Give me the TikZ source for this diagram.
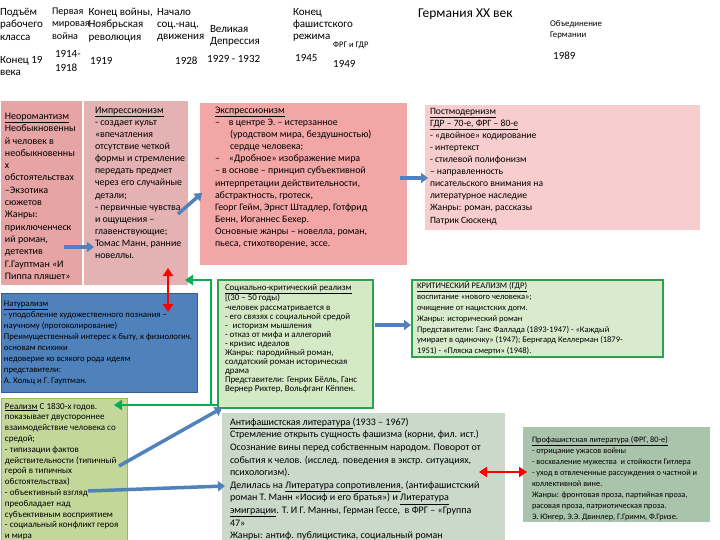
\documentclass[tikz,border=0pt]{standalone}
\usepackage{fontspec}
\setmainfont{Carlito}
\usetikzlibrary{arrows.meta,calc}
\definecolor{neoc}{HTML}{E6A4A4}
\definecolor{impc}{HTML}{E4B2B2}
\definecolor{exprc}{HTML}{F3A6A6}
\definecolor{postc}{HTML}{F8CDCD}
\definecolor{natc}{HTML}{4F81BD}
\definecolor{natb}{HTML}{385D8A}
\definecolor{soccf}{HTML}{D4E9C6}
\definecolor{critf}{HTML}{D8ECCD}
\definecolor{gborder}{HTML}{2EA14E}
\definecolor{realf}{HTML}{C4D79B}
\definecolor{realb}{HTML}{9BBB59}
\definecolor{antif}{HTML}{CBD9CB}
\definecolor{prof}{HTML}{AAC4AC}
\definecolor{arrblue}{HTML}{4F81BD}
\definecolor{arrgreen}{HTML}{00B050}
\definecolor{arrred}{HTML}{FF0000}
\newcommand{\fz}[2]{\fontsize{#1}{#2}\selectfont}
\begin{document}
\begin{tikzpicture}[x=1pt,y=-1pt,
  boxst/.style={anchor=north west, inner sep=0pt, outer sep=0pt},
  txt/.style={anchor=north west, inner sep=0pt, outer sep=0pt, align=left, text=black},
  yr/.style={anchor=base west, inner sep=0pt, font=\fz{11}{14}},
  tl/.style={txt, font=\fz{11}{12.4}},
  barrow/.style={draw=arrblue, line width=3.5pt, -{Triangle[length=7pt,width=10pt]}},
  garrow/.style={draw=arrgreen, line width=2.8pt, -{Triangle[length=8pt,width=10pt]}},
  gline/.style={draw=arrgreen, line width=2.8pt},
  rarrow/.style={draw=arrred, line width=2.5pt, {Triangle[length=8pt,width=10pt]}-{Triangle[length=8pt,width=10pt]}}
]
\useasboundingbox (0,0) rectangle (720,540);
\fill[white] (0,0) rectangle (720,540);

% ---------- timeline ----------
\node[tl] (t1) at (0,8) {Подъём\\рабочего\\класса};
\node[tl] (t1b) at (0,56) {Конец 19\\века};
\node[tl, font=\fz{10.2}{12.4}] (t2) at (52,8) {Первая\\мировая\\война};
\node[txt, font=\fz{11}{14.5}] (t2b) at (55,50) {1914-\\1918};
\node[tl] (t3) at (88.5,8) {Конец войны,\\Ноябрьская\\революция};
\node[yr] (t3b) at (90,65) {1919};
\node[tl] (t4) at (157,8) {Начало\\соц.-нац.\\движения};
\node[yr] (t4b) at (175,65) {1928};
\node[tl] (t5) at (210,25) {Великая\\Депрессия};
\node[yr] (t5b) at (207,63) {1929 - 1932};
\node[tl] (t6) at (293,8) {Конец\\фашистского\\режима};
\node[yr] (t6b) at (295,62) {1945};
\node[anchor=base west, inner sep=0pt, font=\fz{8.5}{9}] (t7) at (333,48) {ФРГ и ГДР};
\node[yr] (t7b) at (333,68) {1949};
\node[anchor=base west, inner sep=0pt, font=\fz{13.5}{16}] (title) at (418,18) {Германия XX век};
\node[txt, font=\fz{8.8}{10.5}] (t8) at (550,21) {Объединение\\Германии};
\node[yr] (t8b) at (553,60) {1989};

% ---------- boxes ----------
\node[boxst, fill=neoc, minimum width=81pt, minimum height=184pt] (neo) at (1,101) {};
\node[boxst, fill=impc, minimum width=104pt, minimum height=184pt] (imp) at (84,101) {};
\node[boxst, fill=exprc, minimum width=207pt, minimum height=162pt] (expr) at (200,103) {};
\node[boxst, fill=postc, minimum width=275pt, minimum height=125pt] (post) at (425,105) {};
\node[boxst, fill=natc, draw=natb, line width=1pt, minimum width=196pt, minimum height=99pt] (nat) at (1,293) {};
\node[boxst, fill=soccf, draw=gborder, line width=2pt, minimum width=155pt, minimum height=128pt] (socc) at (218,280) {};
\node[boxst, fill=critf, draw=gborder, line width=2pt, minimum width=251pt, minimum height=77pt] (crit) at (412,280) {};
\node[boxst, fill=realf, draw=realb, line width=1pt, minimum width=126pt, minimum height=145pt] (real) at (1,398) {};
\node[boxst, fill=antif, minimum width=283pt, minimum height=127pt] (anti) at (222,413) {};
\node[boxst, fill=prof, minimum width=187pt, minimum height=95pt] (pro) at (523,427) {};

% ---------- box texts ----------
\node[txt, font=\fz{10}{12.3}] (neotx) at (5,113) {\underline{Неоромантизм}\\Необыкновенны\\й человек в\\необыкновенны\\х\\обстоятельствах\\–Экзотика\\сюжетов\\Жанры:\\приключенческ\\ий роман,\\детектив\\Г.Гауптман «И\\Пиппа пляшет»};
\node[txt, font=\fz{9.9}{12.1}] (imptx) at (95,107) {\underline{Импрессионизм}\\- создает культ\\«впечатления\\отсутствие четкой\\формы и стремление\\передать предмет\\через его случайные\\детали;\\- первичные чувства\\и ощущения –\\главенствующие;\\Томас Манн, ранние\\новеллы.};
\node[txt, font=\fz{9.9}{12.1}] (exprtx) at (215,107) {\underline{Экспрессионизм}\\–\hspace*{9pt}в центре Э. – истерзанное\\\hspace*{15pt}(уродством мира, бездушностью)\\\hspace*{15pt}сердце человека;\\–\hspace*{9pt}«Дробное» изображение мира\\– в основе – принцип субъективной\\интерпретации действительности,\\абстрактность, гротеск,\\Георг Гейм, Эрнст Штадлер, Готфрид\\Бенн, Иоганнес Бехер.\\Основные жанры – новелла, роман,\\пьеса, стихотворение, эссе.};
\node[txt, font=\fz{9.6}{12.1}] (posttx) at (430,108) {\underline{Постмодернизм}\\\underline{ГДР – 70-е, ФРГ – 80-е}\\- «двойное» кодирование\\- интертекст\\- стилевой полифонизм\\– направленность\\писательского внимания на\\литературное наследие\\Жанры: роман, рассказы\\Патрик Сюскенд};
\node[txt, font=\fz{8.7}{11}] (nattx) at (4,301) {\underline{Натурализм}\\- уподобление художественного познания –\\научному (протоколирование)\\Преимущественный интерес к быту, к физиологич.\\основам психики\\недоверие ко всякого рода идеям\\представители:\\А. Хольц и Г. Гауптман.};
\node[txt, font=\fz{8.9}{9.1}] (socctx) at (225,284) {\underline{Социально-критический реализм}\\{[}(30 – 50 годы)\\-человек рассматривается в\\- его связях с социальной средой\\-\hspace*{3pt} историзм мышления\\- отказ от мифа и аллегорий\\- кризис идеалов\\Жанры: пародийный роман,\\солдатский роман историческая\\драма\\Представители: Генрих Бёлль, Ганс\\Вернер Рихтер, Вольфганг Кёппен.};
\node[txt, font=\fz{8.5}{10.8}] (crittx) at (417,282) {\underline{КРИТИЧЕСКИЙ РЕАЛИЗМ (ГДР)}\\воспитание «нового человека»;\\очищение от нацистских догм.\\Жанры: исторический роман\\Представители: Ганс Фаллада (1893-1947) - «Каждый\\умирает в одиночку» (1947); Бернгард Келлерман (1879-\\1951) - «Пляска смерти» (1948).};
\node[txt, font=\fz{9}{10.8}] (realtx) at (5,403) {\underline{Реализм} С 1830-х годов.\\показывает двустороннее\\взаимодействие человека со\\средой;\\- типизации фактов\\действительности (типичный\\герой в типичных\\обстоятельствах)\\- объективный взгляд\\преобладает над\\субъективным восприятием\\- социальный конфликт героя\\и мира};
\node[txt, font=\fz{10}{12.6}] (antitx) at (230,418) {\underline{Антифашистская литература }(1933 – 1967)\\Стремление открыть сущность фашизма (корни, фил. ист.)\\Осознание вины перед собственным народом. Поворот от\\события к челов. (исслед. поведения в экстр. ситуациях,\\психологизм).\\Делилась на \underline{Литература сопротивления}, (антифашистский\\роман Т. Манн «Иосиф и его братья») и \underline{Литература}\\\underline{эмиграции}. Т. И Г. Манны, Герман Гессе,\ \ в ФРГ – «Группа\\47»\\Жанры: антиф. публицистика, социальный роман};
\node[txt, font=\fz{8.3}{11}] (protx) at (532,436) {\underline{Профашистская литература (ФРГ, 80-е)}\\- отрицание ужасов войны\\- восхваление мужества\ \ и стойкости Гитлера\\- уход в отвлеченные рассуждения о частной и\\коллективной вине.\\Жанры: фронтовая проза, партийная проза,\\расовая проза, патриотическая проза.\\Э. Юнгер, Э.Э. Двинлер, Г.Гримм, Ф.Гризе.};

% ---------- connectors ----------
\coordinate (a1s) at (64,247);
\coordinate (a1e) at (94,247);
\draw[barrow] (a1s) -- (a1e);
\coordinate (a2s) at (178,214);
\coordinate (a2e) at (202,193);
\draw[barrow] (a2s) -- (a2e);
\coordinate (a3s) at (400,178);
\coordinate (a3e) at (428,178);
\draw[barrow] (a3s) -- (a3e);
\coordinate (a4s) at (375,325);
\coordinate (a4e) at (411,325);
\draw[barrow] (a4s) -- (a4e);
\coordinate (a5s) at (119,466);
\coordinate (a5e) at (222,408);
\draw[barrow] (a5s) -- (a5e);
\coordinate (a6s) at (88,491);
\coordinate (a6e) at (225,486);
\draw[barrow] (a6s) -- (a6e);

\coordinate (r1s) at (168,268);
\coordinate (r1e) at (168,312);
\draw[rarrow] (r1s) -- (r1e);
\coordinate (r2s) at (479,472);
\coordinate (r2e) at (527,472);
\draw[rarrow] (r2s) -- (r2e);

\coordinate (gs) at ($(socc.south west)+(1,-3)$);
\coordinate (gj) at (211,405);
\coordinate (gtop) at (211,280);
\coordinate (g1) at (185,280);
\coordinate (g2) at (114,405);
\draw[garrow] (gs) -- (g2);
\draw[gline] (gj) -- (gtop);
\draw[garrow] ($(gtop)+(1.4,0)$) -- (g1);
\end{tikzpicture}
\end{document}
